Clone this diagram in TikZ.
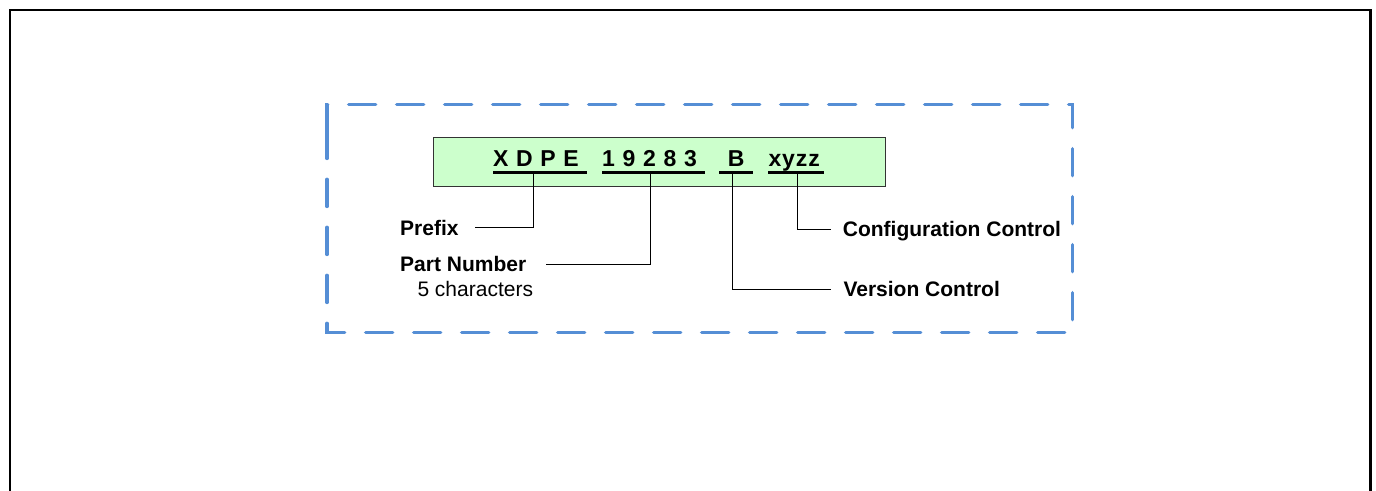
\documentclass[tikz,border=0pt]{standalone}
\usepackage{fontspec}
\setmainfont{Liberation Sans}
\definecolor{dashblue}{RGB}{85,142,213}
\definecolor{partgreen}{RGB}{204,255,204}
\newcommand\pnfont{\fontsize{23}{27}\selectfont\bfseries\addfontfeature{LetterSpace=4}}
\newcommand\lblfont{\fontsize{21}{25}\selectfont\bfseries}
\newcommand\subfont{\fontsize{21}{25}\selectfont}
\begin{document}
\begin{tikzpicture}[x=1pt,y=-1pt,
  pngroup/.style={inner sep=0pt, font=\pnfont, text height=16pt, text depth=5.7pt, anchor=base west},
  lbl/.style={inner sep=0pt, font=\lblfont, text height=15pt, text depth=0pt, anchor=west},
  ul/.style={line width=2.5pt, black},
  conn/.style={line width=1pt, black}]
\clip (0,0) rectangle (1376,490);
\useasboundingbox (0,0) rectangle (1376,490);
\fill[white] (0,0) rectangle (1376,490);
% outer frame
\draw[line width=2.5pt] (10,10) rectangle (1370.5,520);
% dashed box
\draw[dashblue, line width=3.5pt, line cap=round, dash pattern=on 27pt off 21pt]
  (327,131) -- (327,104.7) -- (1072.7,104.7) -- (1072.7,332.7) -- (327,332.7) -- cycle;
% green box
\node[draw=black!80, line width=1.3pt, fill=partgreen, minimum width=452.3pt, minimum height=48.5pt, inner sep=0pt, anchor=north west] (pnbox) at (432.7,137) {};
% part number groups
\node[pngroup, text width=93.5pt, align=left] (xdpe) at (493,166.5) {X D P E};
\node[pngroup, text width=103pt, align=left] (num) at (602,166.5) {1 9 2 8 3};
\node[pngroup, text width=33.7pt, align=center] (ver) at (719,166.5) {B};
\node[pngroup, text width=55pt, align=left] (cfg) at (768.3,166.5) {xyzz};
\draw[ul] (xdpe.south west) -- (xdpe.south east);
\draw[ul] (num.south west) -- (num.south east);
\draw[ul] (ver.south west) -- (ver.south east);
\draw[ul] (cfg.south west) -- (cfg.south east);
% labels
\node[lbl] (prefix) at (400,227.7) {Prefix};
\node[lbl] (partnum) at (400,264) {Part Number};
\node[inner sep=0pt, font=\subfont, anchor=base west] (chars) at (417.3,296) {5 characters};
\node[lbl] (cfglbl) at (842.7,229) {Configuration Control};
\node[lbl] (verlbl) at (843.3,289) {Version Control};
% connectors
\draw[conn, shorten >=16.3pt] ([xshift=-6.25pt]xdpe.south) |- (prefix.east);
\draw[conn, shorten >=19.3pt] ([xshift=-3.5pt]num.south) |- (partnum.east);
\draw[conn, shorten >=12.3pt] ([xshift=-4pt]ver.south) |- (verlbl.west);
\draw[conn, shorten >=11.7pt] ([xshift=1.2pt]cfg.south) |- (cfglbl.west);
\end{tikzpicture}
\end{document}
